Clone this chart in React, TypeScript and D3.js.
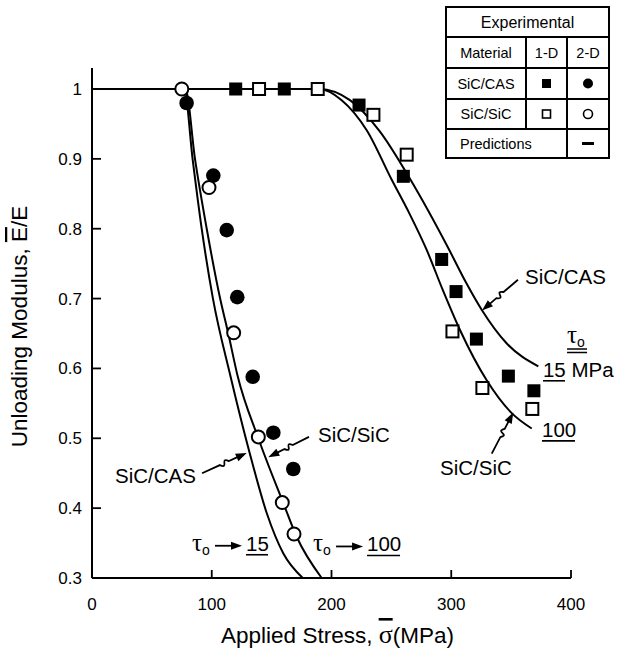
import React from 'react'
import * as d3 from 'd3'

type Pt = [number, number]

// tick values and labels
const xTicks = [0, 100, 200, 300, 400]
const yTicks = [1, 0.9, 0.8, 0.7, 0.6, 0.5, 0.4, 0.3]
const yTickLabels = ['1', '0.9', '0.8', '0.7', '0.6', '0.5', '0.4', '0.3']

// experimental points (stress MPa, normalised unloading modulus)
const casOneD: Pt[] = [[120, 1], [160.6, 1], [223, 0.977], [260, 0.875], [292, 0.756], [304, 0.71], [321, 0.642], [347.7, 0.589], [369, 0.568]]
const sicOneD: Pt[] = [[139.5, 1], [188.5, 1], [235, 0.963], [262.8, 0.906], [301, 0.653], [326, 0.572], [367.7, 0.542]]
const casTwoD: Pt[] = [[79, 0.98], [101.3, 0.876], [112.5, 0.798], [121.3, 0.702], [134.2, 0.588], [151.4, 0.508], [168.1, 0.456]]
const sicTwoD: Pt[] = [[75, 1], [97.7, 0.859], [118.3, 0.651], [138.9, 0.502], [158.9, 0.408], [168.7, 0.363]]

// predictions
const casTwoDPred: Pt[] = [[0, 1], [77, 1], [84, 0.9], [91.6, 0.8], [101, 0.7], [115.5, 0.59], [131.5, 0.48], [145.9, 0.393], [159.8, 0.335], [176, 0.3]]
const sicTwoDPred: Pt[] = [[0, 1], [78, 1], [86, 0.9], [95.8, 0.8], [107, 0.7], [113.8, 0.65], [121.5, 0.59], [138.9, 0.5], [159.8, 0.407], [170.9, 0.359], [191.8, 0.3]]
const casOneDPred: Pt[] = [[0, 1], [190, 1], [215.4, 0.984], [240, 0.94], [266, 0.87], [297.6, 0.772], [312, 0.724], [325.4, 0.684], [346.2, 0.636], [372.7, 0.603]]
const sicOneDPred: Pt[] = [[0, 1], [190, 1], [208.5, 0.984], [229.4, 0.941], [250.3, 0.87], [265, 0.822], [279.4, 0.77], [293, 0.712], [307.3, 0.655], [329.6, 0.583], [350.5, 0.536], [367.2, 0.514]]

const materials = ['SiC/CAS', 'SiC/SiC']

const W = 619
const H = 658
const FONT = '"Liberation Sans", Arial, Helvetica, sans-serif'
const GREEK = '"Liberation Serif", "DejaVu Serif", serif'

const x = d3.scaleLinear().domain([0, 400]).range([92, 571])
const y = d3.scaleLinear().domain([0.3, 1]).range([578, 89])

// annotation anchors, in data units
const leaderNotes = [
  { label: 'SiC/CAS', text: [361.6, 0.721], from: [355.7, 0.727], tip: [325.7, 0.683] },
  { label: 'SiC/SiC', text: [290.6, 0.447], from: [333.8, 0.478], tip: [351.8, 0.537] },
  { label: 'SiC/SiC', text: [188.7, 0.495], from: [181.2, 0.502], tip: [147.2, 0.473] },
  { label: 'SiC/CAS', text: [19.2, 0.436], from: [91.9, 0.45], tip: [129.2, 0.479] },
]
const tauNotes = [
  { at: [83.5, 0.339], value: '15', w: 22 },
  { at: [184.6, 0.338], value: '100', w: 33 },
]

function Arrowhead({ tip, ux, uy }: { tip: Pt, ux: number, uy: number }) {
  const nx = -uy
  const ny = ux
  const b: Pt = [tip[0] - ux * 11, tip[1] - uy * 11]
  const pts = [tip, [b[0] + nx * 4, b[1] + ny * 4], [b[0] - nx * 4, b[1] - ny * 4]]
  return <polygon points={pts.map(p => p.join(',')).join(' ')} fill="#000" />
}

function Leader({ from, tip }: { from: number[], tip: number[] }) {
  const p0: Pt = [x(from[0]), y(from[1])]
  const p1: Pt = [x(tip[0]), y(tip[1])]
  const dx = p1[0] - p0[0]
  const dy = p1[1] - p0[1]
  const len = Math.hypot(dx, dy)
  const ux = dx / len
  const uy = dy / len
  const nx = -uy
  const ny = ux
  const at = (t: number): Pt => [p0[0] + dx * t, p0[1] + dy * t]
  const a = at(0.4)
  const b = at(0.6)
  const end: Pt = [p1[0] - ux * 9, p1[1] - uy * 9]
  const d = `M${p0}L${a}C${a[0] + ux * 7 + nx * 8},${a[1] + uy * 7 + ny * 8} ${b[0] - ux * 7 - nx * 8},${b[1] - uy * 7 - ny * 8} ${b}L${end}`
  return (
    <g>
      <path d={d} fill="none" stroke="#000" strokeWidth={1.8} />
      <Arrowhead tip={p1} ux={ux} uy={uy} />
    </g>
  )
}

function Tau({ px, py }: { px: number, py: number }) {
  return (
    <text x={px} y={py} fontFamily={GREEK} fontSize={25}>
      τ<tspan fontFamily={FONT} fontSize={14} dy={4}>o</tspan>
    </text>
  )
}

export default function App() {
  const line = d3.line<Pt>()
    .x(d => x(d[0]))
    .y(d => y(d[1]))
    .curve(d3.curveMonotoneX)

  const preds = [casTwoDPred, sicTwoDPred, casOneDPred, sicOneDPred]

  // legend table
  const tx = [446, 526, 567, 609]
  const ty = [7, 37, 68, 99, 129, 158]
  const rowMid = (i: number) => (ty[i] + ty[i + 1]) / 2

  return (
    <svg width={W} height={H} style={{ position: 'absolute', left: 0, top: 0, background: '#fff' }} fontFamily={FONT}>
      <rect width={W} height={H} fill="#fff" />

      {/* axes */}
      <line x1={x(0)} x2={x(0)} y1={y(1.03)} y2={y(0.3)} stroke="#000" strokeWidth={2} />
      <line x1={x(0)} x2={x(400)} y1={y(0.3)} y2={y(0.3)} stroke="#000" strokeWidth={2} />
      {xTicks.slice(1).map(t => (
        <line key={t} x1={x(t)} x2={x(t)} y1={y(0.3)} y2={y(0.3) - 8} stroke="#000" strokeWidth={1.8} />
      ))}
      {yTicks.slice(1, -1).map(t => (
        <line key={t} x1={x(0)} x2={x(0) + 9} y1={y(t)} y2={y(t)} stroke="#000" strokeWidth={1.8} />
      ))}
      {xTicks.map(t => (
        <text key={t} x={x(t)} y={y(0.3) + 32} fontSize={17} textAnchor="middle">{t}</text>
      ))}
      {yTicks.map((t, i) => (
        <text key={t} x={x(0) - 10} y={y(t) + 6} fontSize={17} textAnchor="end">{yTickLabels[i]}</text>
      ))}

      {/* axis titles */}
      <text x={(x(0) + x(400)) / 2 + 6} y={643} fontSize={22.5} textAnchor="middle">
        Applied Stress,  <tspan textDecoration="overline" fontFamily={GREEK} fontSize={26}>σ</tspan>(MPa)
      </text>
      <text transform={`translate(27,${y(0.66)}) rotate(-90)`} fontSize={22.5} textAnchor="middle">
        Unloading Modulus, <tspan textDecoration="overline">E</tspan>/E
      </text>

      {/* predictions */}
      {preds.map((p, i) => (
        <path key={i} d={line(p) || ''} fill="none" stroke="#000" strokeWidth={2} />
      ))}

      {/* experiments */}
      {casOneD.map((d, i) => (
        <rect key={'a' + i} x={x(d[0]) - 6.5} y={y(d[1]) - 6.5} width={13} height={13} fill="#000" />
      ))}
      {sicOneD.map((d, i) => (
        <rect key={'b' + i} x={x(d[0]) - 6} y={y(d[1]) - 6} width={12} height={12} fill="#fff" stroke="#000" strokeWidth={2} />
      ))}
      {casTwoD.map((d, i) => (
        <circle key={'c' + i} cx={x(d[0])} cy={y(d[1])} r={7.3} fill="#000" />
      ))}
      {sicTwoD.map((d, i) => (
        <circle key={'d' + i} cx={x(d[0])} cy={y(d[1])} r={6.5} fill="#fff" stroke="#000" strokeWidth={2} />
      ))}

      {/* annotations */}
      {leaderNotes.map((n, i) => (
        <g key={i}>
          <text x={x(n.text[0])} y={y(n.text[1])} fontSize={20.5}>{n.label}</text>
          <Leader from={n.from} tip={n.tip} />
        </g>
      ))}
      {tauNotes.map((n, i) => {
        const px = x(n.at[0])
        const py = y(n.at[1])
        return (
          <g key={i}>
            <Tau px={px} py={py} />
            <line x1={px + 23} x2={px + 40} y1={py - 5} y2={py - 5} stroke="#000" strokeWidth={1.8} />
            <Arrowhead tip={[px + 50, py - 5]} ux={1} uy={0} />
            <text x={px + 54} y={py} fontSize={20.5}>{n.value}</text>
            <line x1={px + 54} x2={px + 54 + n.w} y1={py + 4} y2={py + 4} stroke="#000" strokeWidth={1.6} />
          </g>
        )
      })}
      {(() => {
        const px = x(396.7)
        const py = y(0.6364)
        const mx = x(376.6)
        const my = y(0.588)
        const hx = x(375.8)
        const hy = y(0.502)
        return (
          <g>
            <Tau px={px} py={py} />
            <line x1={px} x2={px + 20} y1={py + 6} y2={py + 6} stroke="#000" strokeWidth={1.5} />
            <line x1={px} x2={px + 20} y1={py + 9.5} y2={py + 9.5} stroke="#000" strokeWidth={1.5} />
            <text x={mx} y={my} fontSize={20.5}>15 MPa</text>
            <line x1={mx} x2={mx + 22} y1={my + 4} y2={my + 4} stroke="#000" strokeWidth={1.6} />
            <text x={hx} y={hy} fontSize={20.5}>100</text>
            <line x1={hx} x2={hx + 33} y1={hy + 4} y2={hy + 4} stroke="#000" strokeWidth={1.6} />
          </g>
        )
      })()}

      {/* legend table */}
      <g stroke="#000" strokeWidth={2} fill="none">
        <rect x={tx[0]} y={ty[0]} width={tx[3] - tx[0]} height={ty[5] - ty[0]} />
        {ty.slice(1, -1).map(v => <line key={v} x1={tx[0]} x2={tx[3]} y1={v} y2={v} />)}
        <line x1={tx[1]} x2={tx[1]} y1={ty[1]} y2={ty[4]} />
        <line x1={tx[2]} x2={tx[2]} y1={ty[1]} y2={ty[5]} />
      </g>
      <g fontSize={14.5} textAnchor="middle">
        <text x={(tx[0] + tx[3]) / 2} y={rowMid(0) + 6} fontSize={16}>Experimental</text>
        <text x={(tx[0] + tx[1]) / 2} y={rowMid(1) + 5}>Material</text>
        <text x={(tx[1] + tx[2]) / 2} y={rowMid(1) + 5}>1-D</text>
        <text x={(tx[2] + tx[3]) / 2} y={rowMid(1) + 5}>2-D</text>
        {materials.map((m, i) => (
          <text key={m} x={(tx[0] + tx[1]) / 2} y={rowMid(2 + i) + 5}>{m}</text>
        ))}
        <text x={tx[0] + 14} y={rowMid(4) + 5} textAnchor="start">Predictions</text>
      </g>
      <rect x={(tx[1] + tx[2]) / 2 - 4.5} y={rowMid(2) - 4.5} width={9} height={9} fill="#000" />
      <circle cx={(tx[2] + tx[3]) / 2} cy={rowMid(2)} r={5} fill="#000" />
      <rect x={(tx[1] + tx[2]) / 2 - 4} y={rowMid(3) - 4} width={8} height={8} fill="#fff" stroke="#000" strokeWidth={1.6} />
      <circle cx={(tx[2] + tx[3]) / 2} cy={rowMid(3)} r={4.5} fill="#fff" stroke="#000" strokeWidth={1.6} />
      <line x1={(tx[2] + tx[3]) / 2 - 6} x2={(tx[2] + tx[3]) / 2 + 6} y1={rowMid(4)} y2={rowMid(4)} stroke="#000" strokeWidth={3} />
    </svg>
  )
}
